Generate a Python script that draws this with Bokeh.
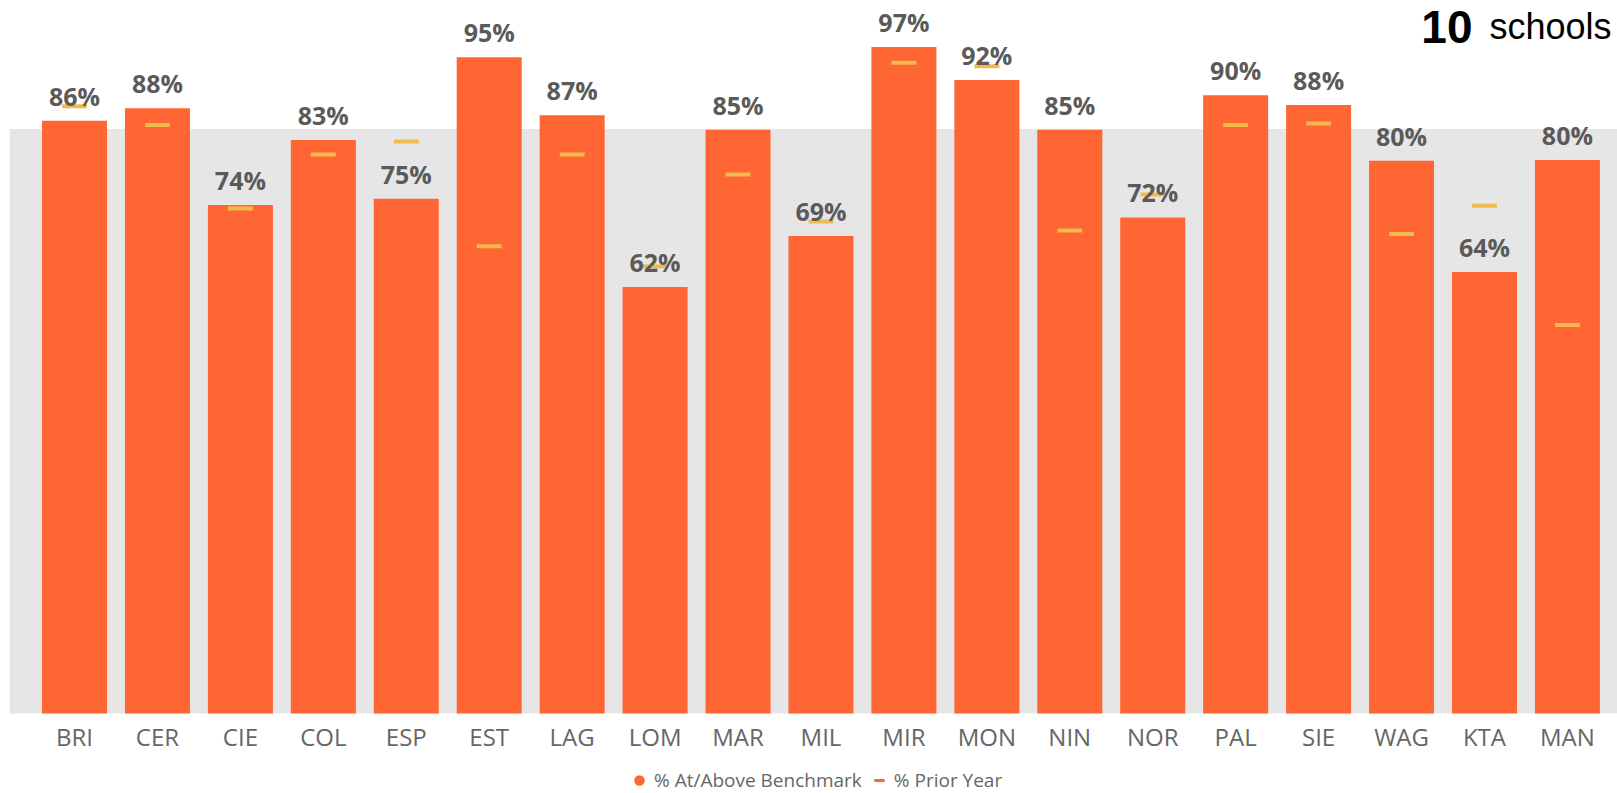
from bokeh.plotting import figure
from bokeh.models import (ColumnDataSource, Range1d, FixedTicker, BoxAnnotation,
                          Label, Legend, LegendItem)
from bokeh.core.properties import value
from bokeh.embed import file_html
from bokeh.resources import INLINE

# ---- data ----
schools = ["BRI", "CER", "CIE", "COL", "ESP", "EST", "LAG", "LOM", "MAR", "MIL",
           "MIR", "MON", "NIN", "NOR", "PAL", "SIE", "WAG", "KTA", "MAN"]
pct_at_above = [85.9, 87.7, 73.7, 83.1, 74.6, 95.1, 86.7, 61.8, 84.6, 69.2,
                96.6, 91.8, 84.6, 71.9, 89.6, 88.2, 80.1, 64.0, 80.2]
pct_prior_year = [88.0, 85.3, 73.2, 81.0, 82.9, 67.7, 81.0, 64.8, 78.1, 71.3,
                  94.3, 93.8, 70.0, 75.2, 85.3, 85.5, 69.5, 73.6, 56.3]
benchmark_band_top = 84.7
school_count = 10

ORANGE = "#FF6633"
YELLOW = "#F0BA4C"
GRAY_BAND = "#E6E6E6"
LABEL_GRAY = "#5A5A5A"
AXIS_GRAY = "#666666"

idx = list(range(len(schools)))
src = ColumnDataSource(dict(
    x=idx,
    cur=pct_at_above,
    prior=pct_prior_year,
    lbl=[f"{round(v)}%" for v in pct_at_above],
))

p = figure(width=1617, height=793, output_backend="svg", toolbar_location=None,
           x_range=Range1d(-0.784, 18.604), y_range=Range1d(-11.59, 103.33),
           min_border_left=9, min_border_right=0, min_border_top=0,
           min_border_bottom=0)
p.outline_line_color = None
p.xgrid.visible = False
p.ygrid.visible = False
p.yaxis.visible = False
p.background_fill_color = "white"
p.border_fill_color = "white"

band = BoxAnnotation(bottom=0, top=benchmark_band_top, fill_color=GRAY_BAND,
                     fill_alpha=1, line_color=None, level="underlay")
p.add_layout(band)

p.vbar(x="x", top="cur", bottom=0, width=0.784, source=src,
       fill_color=ORANGE, line_color=None)
p.rect(x="x", y="prior", width=0.3, height=4, height_units="screen", source=src,
       fill_color=YELLOW, line_color=None)
p.text(x="x", y="cur", text="lbl", source=src, text_align="center",
       text_baseline="alphabetic", y_offset=-25,
       text_font=value("Open Sans"), text_font_style="bold",
       text_font_size="25px", text_color=LABEL_GRAY)

# x axis with school codes, pinned at the zero line
p.xaxis.fixed_location = 0
p.xaxis.ticker = FixedTicker(ticks=idx)
p.xaxis.major_label_overrides = {i: s for i, s in zip(idx, schools)}
p.xaxis.axis_line_color = None
p.xaxis.major_tick_line_color = None
p.xaxis.minor_tick_line_color = None
p.xaxis.major_label_text_font = "Open Sans"
p.xaxis.major_label_text_font_size = "24px"
p.xaxis.major_label_text_color = AXIS_GRAY
p.xaxis.major_label_standoff = 0

# "10 schools" headline
p.add_layout(Label(x=16.856, y=99.5, text=str(school_count), text_align="right",
                   text_baseline="alphabetic", text_font="Liberation Sans",
                   text_font_style="bold", text_font_size="46px", text_color="black"))
p.add_layout(Label(x=18.531, y=99.5, text="schools", text_align="right",
                   text_baseline="alphabetic", text_font="Liberation Sans",
                   text_font_size="36px", text_color="black"))

# legend proxies (size 0 in the plot; legend draws its own glyph size)
r_dot = p.scatter(x="x", y="cur", source=src, marker="circle", size=0,
                  fill_color=ORANGE, line_color=None)
r_dash = p.scatter(x="x", y="prior", source=src, marker="dash", size=0,
                   line_color=ORANGE, line_width=3)
legend = Legend(items=[LegendItem(label="% At/Above Benchmark", renderers=[r_dot]),
                       LegendItem(label="% Prior Year", renderers=[r_dash])],
                orientation="horizontal", location=(617, 0),
                label_text_font="Open Sans", label_text_font_size="19px",
                label_text_color=AXIS_GRAY, glyph_width=26, glyph_height=26,
                label_height=20, label_standoff=2, spacing=4, padding=0, margin=0,
                border_line_color=None, background_fill_alpha=0)
p.add_layout(legend)

open("out.html", "w").write(file_html(p, INLINE))
